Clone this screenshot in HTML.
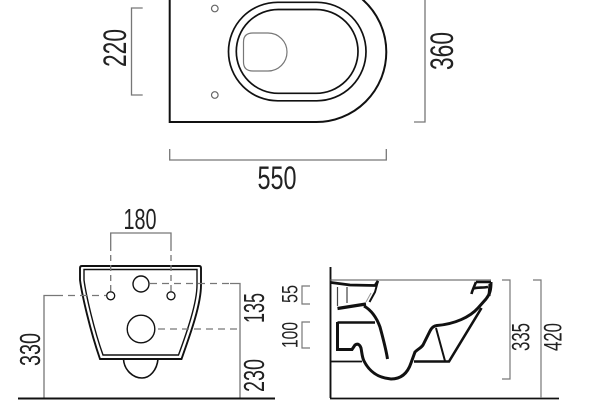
<!DOCTYPE html>
<html>
<head>
<meta charset="utf-8">
<style>
html,body{margin:0;padding:0;background:#fff;width:600px;height:400px;overflow:hidden}
svg{display:block}
text{font-family:"Liberation Sans",sans-serif;fill:#222}
</style>
</head>
<body>
<svg width="600" height="400" viewBox="0 0 600 400" xmlns="http://www.w3.org/2000/svg">
<!-- Top view -->
<g fill="none" stroke="#111">
<path d="M169.7 -2V122H316A70 70 0 0 0 386.3 52A70 70 0 0 0 362 -1" stroke-width="2"/>
<rect x="228.5" y="2.3" width="137.5" height="98.5" rx="49.2" stroke-width="1.7"/>
<rect x="236.3" y="9.5" width="121.7" height="83.8" rx="41.9" stroke-width="1.7"/>
<path d="M243.5 42Q243.5 33 253 33H268A19 19 0 0 1 268 71H253Q243.5 71 243.5 62Z" stroke="#777" stroke-width="1.2"/>
<circle cx="214.8" cy="8.5" r="3.3" stroke="#666" stroke-width="1.2"/>
<circle cx="214.8" cy="95" r="3.3" stroke="#666" stroke-width="1.2"/>
</g>
<g fill="none" stroke="#777" stroke-width="1.3">
<path d="M142.7 8H131.5V95H142.7"/>
<path d="M425 -2V122H414"/>
<path d="M169.7 149V160H386.3V149"/>
</g>
<text transform="translate(126 48) rotate(-90)" font-size="32" text-anchor="middle" textLength="38" lengthAdjust="spacingAndGlyphs">220</text>
<text transform="translate(453 51) rotate(-90)" font-size="32" text-anchor="middle" textLength="38" lengthAdjust="spacingAndGlyphs">360</text>
<text x="277" y="189" font-size="32" text-anchor="middle" textLength="39" lengthAdjust="spacingAndGlyphs">550</text>

<!-- Front view -->
<g fill="none" stroke="#111">
<path d="M100 359H181.5C190 335 201 305 201 285V268Q201 266 199 266H82Q80 266 80 268V280C82 295 90 330 100 359Z" stroke-width="1.9"/>
<path d="M103 355H178.5C187 332 197 303 197 285V269.5H84V280C86 295 94 330 103 355Z" stroke-width="1.4"/>
<path d="M123.5 359C124 370 133 378 142 378C150 378 157 370 158 359" stroke-width="1.6"/>
<circle cx="141" cy="284" r="8" stroke-width="1.4"/>
<circle cx="141" cy="329" r="13.8" stroke-width="1.4"/>
<circle cx="110.7" cy="295.8" r="4" stroke-width="1.3"/>
<circle cx="171" cy="295.8" r="4" stroke-width="1.3"/>
</g>
<g fill="none" stroke="#777" stroke-width="1.3">
<path d="M110.7 245V233H171V245"/>
<path d="M110.7 245V291M171 245V291" stroke-dasharray="6 4"/>
<path d="M44 398V295.5H56"/>
<path d="M56 295.5H106" stroke-dasharray="7 5"/>
<path d="M240 398V283.5H230"/>
<path d="M150 283.5H230" stroke-dasharray="7 5"/>
<path d="M158 329H240" stroke-dasharray="7 5"/>
</g>
<path d="M18 398.5H275" stroke="#111" stroke-width="2"/>
<text x="140" y="229" font-size="29" text-anchor="middle" textLength="33" lengthAdjust="spacingAndGlyphs">180</text>
<text transform="translate(40 349.5) rotate(-90)" font-size="29" text-anchor="middle" textLength="33" lengthAdjust="spacingAndGlyphs">330</text>
<text transform="translate(264 308) rotate(-90)" font-size="29" text-anchor="middle" textLength="30" lengthAdjust="spacingAndGlyphs">135</text>
<text transform="translate(264 375.5) rotate(-90)" font-size="29" text-anchor="middle" textLength="33" lengthAdjust="spacingAndGlyphs">230</text>

<!-- Side view -->
<g fill="none" stroke="#111">
<path d="M330.5 267V398" stroke-width="1.9"/>
<path d="M330 398.5H559" stroke-width="1.7"/>
<path d="M330 280H491" stroke="#555" stroke-width="1.1"/>
<path d="M331 282.5L350 285L375 285.5L378 281" stroke-width="2.8"/>
<path d="M378 281L375 292L369.5 302" stroke-width="2"/>
<path d="M371 293L366 302" stroke="#999" stroke-width="1"/>
<path d="M337.5 287V306M347 287V303" stroke="#444" stroke-width="1.2"/>
<path d="M337.5 308.5L366 304" stroke-width="3.2"/>
<path d="M364 306C371 310 376 316 380 327C383 338 386 349 387.5 359" stroke-width="3"/>
<path d="M337.5 322.5H375" stroke-width="2.6"/>
<path d="M337.5 322V349.5H352L355 345C358 343 360 345 361 348C362 353 362 357 364 361C369 371 378 378 391 379C402 379 408 372 411 363L415 352C418 349 421 348 423 345L430 331C432 327 434 326 437 325.5C455 324 470 317 478 308L486 299C490 294 491 290 491 282" stroke-width="3"/>
<path d="M476 282H491M476 282C474 287 472 291 471.5 294M473 289C475 287 482 288 488 287" stroke-width="2.6"/>
<path d="M490 284L489 296" stroke-width="3"/>
<path d="M330 361.5H362" stroke-width="1.8"/>
<path d="M481.5 308L449 361.5H414" stroke-width="2.6"/>
<path d="M436 328L445 361" stroke-width="2"/>
</g>
<g fill="none" stroke="#777" stroke-width="1.2">
<path d="M310 286H302V304H310"/>
<path d="M310 322H302V348H310"/>
<path d="M502 280H510V379H502"/>
<path d="M533 280H541V398"/>
</g>
<text transform="translate(297.5 294) rotate(-90)" font-size="22.5" text-anchor="middle" textLength="18" lengthAdjust="spacingAndGlyphs">55</text>
<text transform="translate(297.5 335) rotate(-90)" font-size="22.5" text-anchor="middle" textLength="26" lengthAdjust="spacingAndGlyphs">100</text>
<text transform="translate(529.5 337) rotate(-90)" font-size="25" text-anchor="middle" textLength="28" lengthAdjust="spacingAndGlyphs">335</text>
<text transform="translate(561.5 337) rotate(-90)" font-size="25" text-anchor="middle" textLength="28" lengthAdjust="spacingAndGlyphs">420</text>
</svg>
</body>
</html>
